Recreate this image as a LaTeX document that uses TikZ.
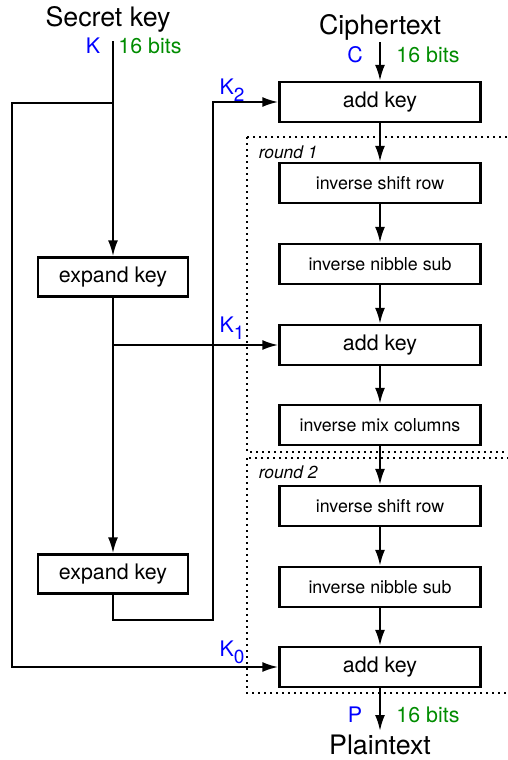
\documentclass[tikz,border=0pt]{standalone}
\usepackage{fontspec}
\setmainfont{TeX Gyre Heros}
\usetikzlibrary{arrows.meta}

\definecolor{keyblue}{RGB}{0,0,255}
\definecolor{bitgreen}{RGB}{0,140,0}

% key with a lowered index
\newcommand{\keyidx}[1]{K\raisebox{-0.65ex}{\fontsize{9.5}{10}\selectfont #1}}

\begin{document}
\begin{tikzpicture}[x=0.5pt, y=-0.5pt, line width=1.15pt,
	arr/.style={-{Latex[length=8pt, width=5pt]}},
	bigbox/.style={draw, minimum width=100.5pt, minimum height=20pt, inner sep=0pt, font=\fontsize{10.7}{12}\selectfont},
	smallbox/.style={draw, minimum width=100.5pt, minimum height=20pt, inner sep=0pt, font=\fontsize{8.9}{10}\selectfont},
	keybox/.style={draw, minimum width=75pt, minimum height=19.5pt, inner sep=0pt, font=\fontsize{10.7}{12}\selectfont},
	title/.style={font=\fontsize{13.4}{15}\selectfont},
	klabel/.style={text=keyblue, font=\fontsize{10.7}{12}\selectfont},
	bits/.style={text=bitgreen, font=\fontsize{10.7}{12}\selectfont},
	roundlabel/.style={font=\fontsize{8.7}{10}\selectfont\itshape, anchor=west}]
	\useasboundingbox (0,0) rectangle (508,760);

	% rounds
	\draw [dotted, line width=1pt] (247,137) rectangle (530,452);
	\draw [dotted, line width=1pt] (247,458) rectangle (530,693);
	\node [roundlabel] (r1) at (251,152) {round 1};
	\node [roundlabel] (r2) at (251,472) {round 2};

	% key schedule
	\node [title] (secret) at (108,19) {Secret key};
	\node [klabel] (k) at (93,46) {K};
	\node [bits] (kbits) at (150,46) {16 bits};
	\node [keybox] (exp1) at (113,277) {expand key};
	\node [keybox] (exp2) at (113,574) {expand key};

	% decryption path
	\node [title] (cipher) at (380,27) {Ciphertext};
	\node [klabel] (c) at (355,55) {C};
	\node [bits] (cbits) at (428,55) {16 bits};
	\node [bigbox] (add1) at (380,102) {add key};
	\node [smallbox] (isr1) at (380,183) {inverse shift row};
	\node [smallbox] (ins1) at (380,264) {inverse nibble sub};
	\node [bigbox] (add2) at (380,345) {add key};
	\node [smallbox] (imc) at (380,425) {inverse mix columns};
	\node [smallbox] (isr2) at (380,506) {inverse shift row};
	\node [smallbox] (ins2) at (380,587) {inverse nibble sub};
	\node [bigbox] (add3) at (380,667) {add key};
	\node [klabel] (p) at (355,715) {P};
	\node [bits] (pbits) at (428,715) {16 bits};
	\node [title] (plain) at (380,745) {Plaintext};

	\node [klabel] (k2) at (232,90) {\keyidx{2}};
	\node [klabel] (k1) at (232,328) {\keyidx{1}};
	\node [klabel] (k0) at (232,652) {\keyidx{0}};

	\coordinate (ktop) at (113,41);
	\coordinate (ksplit) at (113,103);
	\coordinate (kleft) at (12,103);
	\coordinate (k1split) at (113,345);
	\coordinate (k2turn) at (213,620);
	\coordinate (ctop) at (380,42);
	\coordinate (pend) at (380,731);

	\draw [arr] (ktop) -- (exp1);
	\draw [arr] (ksplit) -- (kleft) |- (add3);
	\draw [arr] (exp1) -- (exp2);
	\draw [arr] (k1split) -- (add2);
	\draw [arr] (exp2) |- (k2turn) |- (add1);

	\draw [arr] (ctop) -- (add1);
	\draw [arr] (add1) -- (isr1);
	\draw [arr] (isr1) -- (ins1);
	\draw [arr] (ins1) -- (add2);
	\draw [arr] (add2) -- (imc);
	\draw [arr] (imc) -- (isr2);
	\draw [arr] (isr2) -- (ins2);
	\draw [arr] (ins2) -- (add3);
	\draw [arr] (add3) -- (pend);
\end{tikzpicture}
\end{document}
